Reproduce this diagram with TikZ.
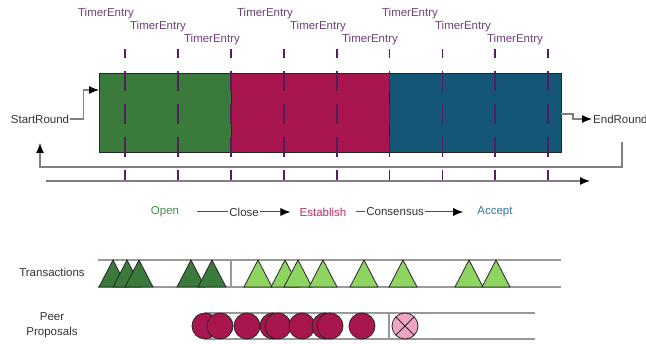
\documentclass[tikz,border=0pt]{standalone}
\usepackage{fontspec}
\setmainfont{Liberation Sans}
\usetikzlibrary{arrows.meta}

\definecolor{opengreen}{RGB}{58,122,58}
\definecolor{establishred}{RGB}{168,21,79}
\definecolor{acceptblue}{RGB}{19,86,117}
\definecolor{txgreen}{RGB}{142,212,96}
\definecolor{rejectpink}{RGB}{242,165,195}
\definecolor{timerpurple}{RGB}{82,30,92}
\definecolor{opentext}{RGB}{72,142,72}
\definecolor{establishtext}{RGB}{196,42,102}
\definecolor{accepttext}{RGB}{52,120,160}

\begin{document}
\begin{tikzpicture}[> = {Latex[length = 10pt, width = 8pt, color = black]}, x = 1pt, y = -1pt,
	every node/.style = {font = \fontsize{11.5}{14.5}\selectfont, inner sep = 1pt, text = black!80},
	flow/.style = {draw = black!50, line width = 1.2pt},
	phasebox/.style = {draw = black!85, line width = 1pt},
	timerline/.style = {draw = timerpurple, line width = 1.8pt, dash pattern = on 20pt off 13pt, dash phase = 11pt},
	timerlabel/.style = {text = timerpurple!85},
	row/.style = {draw = black!40, line width = 1.8pt},
	tx/.style = {draw = black!85, line width = 0.8pt},
	proposal/.style = {draw = black!85, line width = 0.8pt, fill = establishred}]

	% Definitions

	\def\spacing{52.9}		% distance between timer entries
	\def\tri{14}			% half base of a transaction triangle
	\def\rad{13pt}			% radius of a peer proposal

	\useasboundingbox (0, 0) rectangle (646, 344);

	% Round phases

	\filldraw [phasebox, fill = opengreen] (99, 74) rectangle (231, 153);
	\filldraw [phasebox, fill = establishred] (231, 74) rectangle (389, 153);
	\filldraw [phasebox, fill = acceptblue] (389, 74) rectangle (561, 153);

	\coordinate (roundin) at (99, 90);
	\coordinate (roundout) at (561, 114);

	% Timer entries

	\foreach \i in {0, 1, ..., 8}
		\draw [timerline] ({125 + \i * \spacing}, 49) -- ++(0, 132);

	\foreach \x/\y [count = \n] in {106/14, 158/27, 212/40, 265/14, 318/27, 370/40, 410/14, 463/27, 515/40}
		\node [timerlabel] (timer-\n) at (\x, \y) {TimerEntry};

	% Start and end of the round

	\node (startround) at (40, 119) {StartRound};
	\node [anchor = west] (endround) at (592, 119) {EndRound};

	\draw [flow, ->] (startround.east) -- ++(13, 0) |- (roundin);
	\draw [flow, ->] (roundout) -- ++(12, 0) |- (endround.west);

	\coordinate (loopstart) at (622, 142);
	\coordinate (loopend) at (40, 143);
	\draw [flow, ->] (loopstart) -- (622, 167) -| (loopend);

	\coordinate (timestart) at (46, 181);
	\coordinate (timeend) at (590, 181);
	\draw [flow, ->] (timestart) -- (timeend);

	% Phase names

	\node [text = opentext] (open) at (165, 212) {Open};
	\node [text = establishtext] (establish) at (323, 212) {Establish};
	\node [text = accepttext] (accept) at (495, 212) {Accept};

	\begin{scope}[draw = black!70, line width = 1pt, ->]
		\draw [shorten < = 17pt, shorten > = 8pt] (open) -- node [fill = white, pos = 0.54] (close) {Close} (establish);
		\draw [shorten < = 8pt, shorten > = 13pt] (establish) -- node [fill = white, pos = 0.37] (consensus) {Consensus} (accept);
	\end{scope}

	% Transactions

	\node (transactions) at (52, 272) {Transactions};

	\draw [row] (98, 260) -- (561, 260);
	\draw [row] (98, 287) -- (561, 287);
	\draw [row] (231, 260) -- (231, 287);

	\foreach \x in {113, 127, 139, 191, 212}
		\filldraw [tx, fill = opengreen] (\x, 260) -- ({\x - \tri}, 287) -- ({\x + \tri}, 287) -- cycle;

	\foreach \x in {258, 285, 298, 323, 364, 403, 469, 496}
		\filldraw [tx, fill = txgreen] (\x, 260) -- ({\x - \tri}, 287) -- ({\x + \tri}, 287) -- cycle;

	% Peer proposals

	\node [align = center] (proposals) at (52, 325) {Peer\\Proposals};

	\draw [row] (205, 313) -- (535, 313);
	\draw [row] (205, 339) -- (535, 339);
	\draw [row] (389, 313) -- (389, 339);

	\foreach \x in {205, 220, 247, 273, 278, 302, 325, 330, 362}
		\filldraw [proposal] (\x, 326) circle (\rad);

	\filldraw [proposal, fill = rejectpink] (405, 326) circle (\rad);
	\draw [black!85, line width = 0.8pt] (405, 326) +(45 : \rad) -- +(225 : \rad);
	\draw [black!85, line width = 0.8pt] (405, 326) +(135 : \rad) -- +(315 : \rad);

\end{tikzpicture}
\end{document}
